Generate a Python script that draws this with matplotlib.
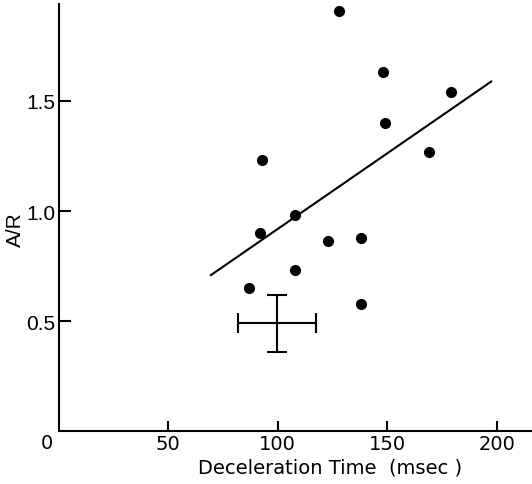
import matplotlib
matplotlib.use("Agg")
import matplotlib.pyplot as plt

# scatter data
decel_time = [128, 148, 179, 149, 169, 93, 108, 92, 123, 138, 108, 87, 138]
a_over_r = [1.91, 1.63, 1.54, 1.40, 1.27, 1.23, 0.98, 0.90, 0.865, 0.877, 0.73, 0.65, 0.58]

# regression line end points
line_x = [69.5, 197.4]
line_y = [0.709, 1.588]

# mean +/- SD cross
mean_x, sd_x = 99.7, 17.9
mean_y, sd_y = 0.49, 0.13

x_ticks = [50, 100, 150, 200]
y_ticks = [0.5, 1.0, 1.5]
y_tick_labels = ["0.5", "1.0", "1.5"]

plt.rcParams["font.family"] = ["Liberation Sans", "DejaVu Sans"]

fig = plt.figure(figsize=(5.32, 4.85), dpi=100)
ax = fig.add_axes([0.110, 0.1087, 0.890, 0.881])

ax.plot(decel_time, a_over_r, "o", color="black", ms=7)
ax.plot(line_x, line_y, color="black", lw=1.5)
ax.errorbar([mean_x], [mean_y], xerr=[sd_x], yerr=[sd_y], fmt="none",
            ecolor="black", elinewidth=1.5, capsize=7.5, capthick=1.5)

ax.set_xlim(0, 216)
ax.set_ylim(0, 1.94)
for side in ["top", "right"]:
    ax.spines[side].set_visible(False)
for side in ["left", "bottom"]:
    ax.spines[side].set_linewidth(1.5)

ax.set_xticks(x_ticks)
ax.set_xticklabels([str(v) for v in x_ticks], fontfamily="DejaVu Sans")
ax.set_yticks(y_ticks)
ax.set_yticklabels(y_tick_labels)
ax.tick_params(axis="x", direction="in", length=7, width=1.5, pad=2, labelsize=14)
ax.tick_params(axis="y", direction="in", length=8.5, width=1.5, pad=2, labelsize=15)
ax.text(-0.025, -0.005, "0", transform=ax.transAxes, ha="center", va="top",
        fontsize=14, fontfamily="DejaVu Sans")

ax.set_xlabel("Deceleration Time  (msec )", fontsize=14, fontfamily="DejaVu Sans")
ax.xaxis.set_label_coords(0.573, -0.062)
ax.set_ylabel("A/R", fontsize=15)
ax.yaxis.set_label_coords(-0.07, 0.474)

fig.savefig("out.png", dpi=100)
